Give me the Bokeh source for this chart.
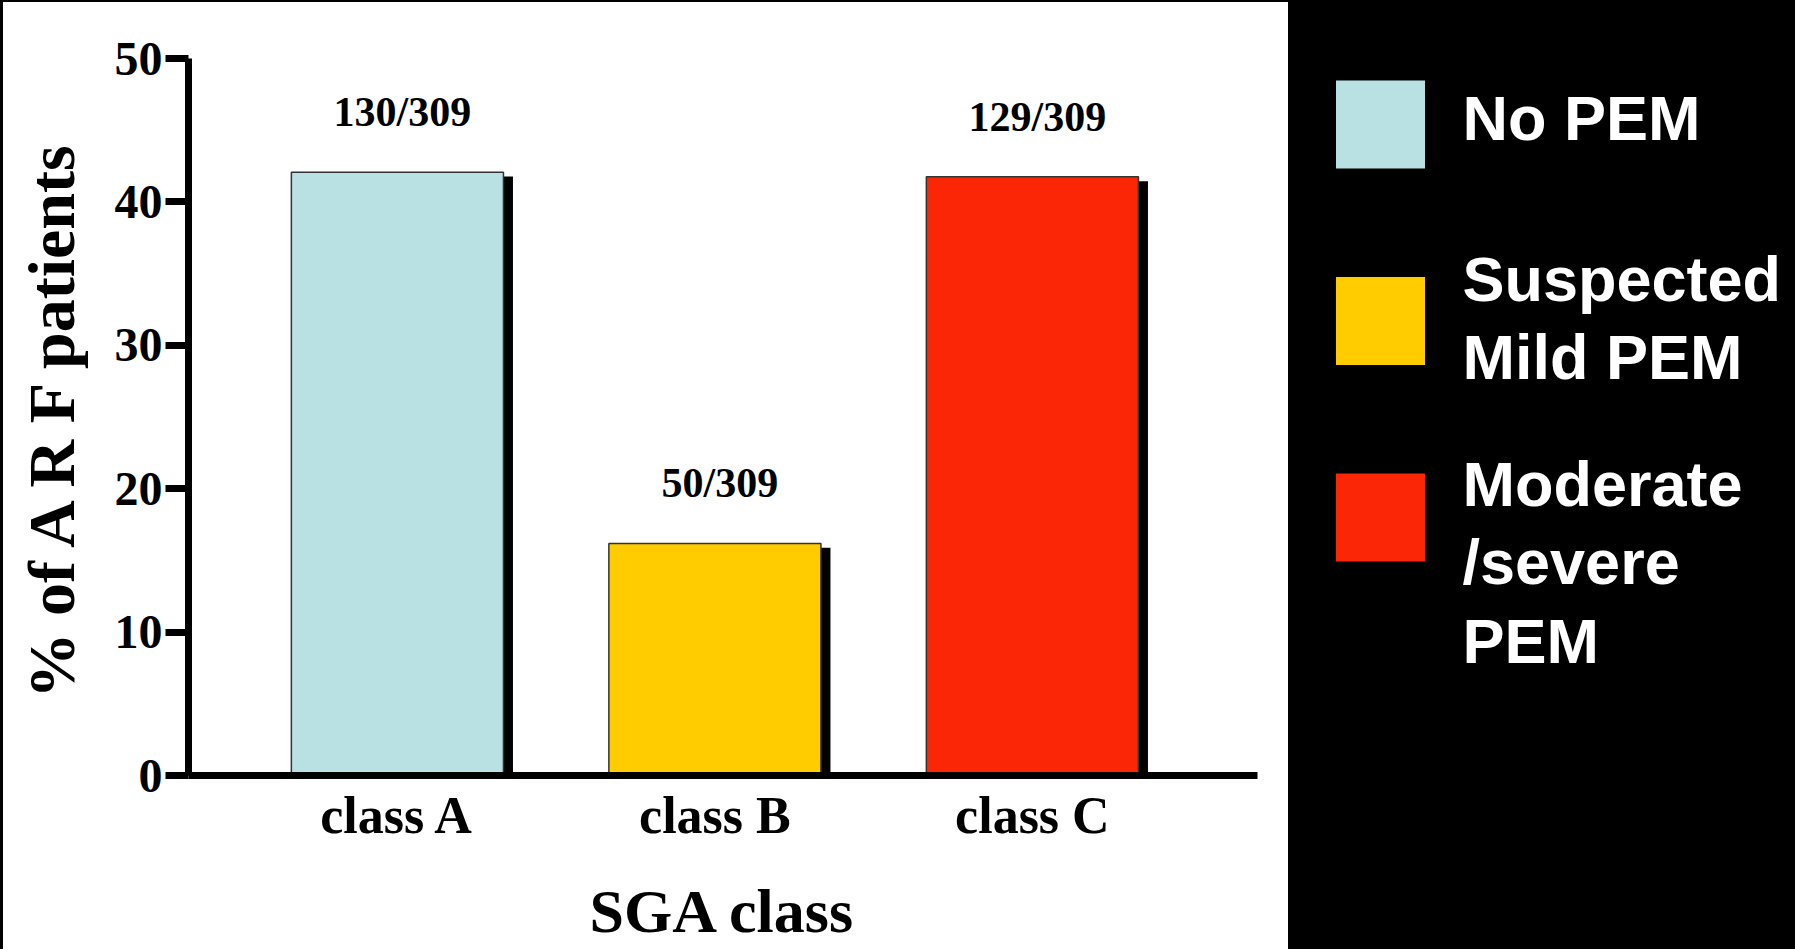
from bokeh.plotting import figure
from bokeh.models import Range1d, FixedTicker, ColumnDataSource, LabelSet
from bokeh.layouts import row
from bokeh.transform import dodge
from bokeh.core.properties import value
from bokeh.embed import file_html
from bokeh.resources import INLINE

# --- data -------------------------------------------------------------
classes = ["class A", "class B", "class C"]
patients = [130, 50, 129]
total_patients = 309
groups = ["No PEM", "Suspected\nMild  PEM", "Moderate\n/severe\nPEM"]
colors = ["#B9E0E2", "#FFCC00", "#FA2605"]
y_ticks = [0, 10, 20, 30, 40, 50]

pct = [n / total_patients * 100 for n in patients]
fractions = [f"{n}/{total_patients}" for n in patients]
xpos = list(range(1, len(classes) + 1))

src = ColumnDataSource(dict(x=xpos, pct=pct, frac=fractions, color=colors))

SERIF = "Liberation Serif"
SANS = "Liberation Sans"

# --- bar chart (white panel) -------------------------------------------
x_start, x_end = 0.342, 3.709
p = figure(width=1285, height=947,
           x_range=Range1d(x_start, x_end), y_range=Range1d(0, 50),
           output_backend="svg", toolbar_location=None,
           min_border_left=185, min_border_top=56,
           min_border_right=31, min_border_bottom=174,
           margin=(2, 0, 0, 3), styles={"background-color": "white"})
p.background_fill_color = "white"
p.border_fill_color = "white"
p.outline_line_color = None
p.grid.visible = False

# drop shadow behind each bar
p.vbar(x=dodge("x", 0.03), top=dodge("pct", -0.3), width=0.668, bottom=0,
       source=src, fill_color="black", line_color=None)
p.vbar(x="x", top="pct", width=0.668, bottom=0, source=src,
       fill_color="color", line_color="#333333", line_width=1.5)

labels = LabelSet(x="x", y="pct", text="frac", source=src,
                  x_offset=5, y_offset=46,
                  text_align="center", text_baseline="alphabetic",
                  text_font=value(SERIF), text_font_style="bold",
                  text_font_size="42px", text_color="black")
p.add_layout(labels)

xa = p.xaxis[0]
xa.ticker = FixedTicker(ticks=xpos)
xa.major_label_overrides = {i: c for i, c in zip(xpos, classes)}
xa.axis_line_width = 7
xa.axis_line_color = "black"
xa.major_tick_line_color = None
xa.minor_tick_line_color = None
xa.major_label_standoff = 5
xa.major_label_text_font = SERIF
xa.major_label_text_font_style = "bold"
xa.major_label_text_font_size = "52px"
xa.major_label_text_color = "black"
xa.axis_label = "SGA class"
xa.axis_label_text_font = SERIF
xa.axis_label_text_font_style = "bold"
xa.axis_label_text_font_size = "62px"
xa.axis_label_text_color = "black"
xa.axis_label_standoff = 30

ya = p.yaxis[0]
ya.ticker = FixedTicker(ticks=y_ticks)
ya.axis_line_width = 7
ya.axis_line_color = "black"
ya.major_tick_line_width = 7
ya.major_tick_line_color = "black"
ya.major_tick_out = 23
ya.major_tick_in = 0
ya.minor_tick_line_color = None
ya.major_label_standoff = 3
ya.major_label_text_font = SERIF
ya.major_label_text_font_style = "bold"
ya.major_label_text_font_size = "48px"
ya.major_label_text_color = "black"
ya.axis_label = "% of A R F patients"
ya.axis_label_text_font = SERIF
ya.axis_label_text_font_style = "bold"
ya.axis_label_text_font_size = "66px"
ya.axis_label_text_color = "black"
ya.axis_label_standoff = 24

# --- legend panel (black strip) ----------------------------------------
idx = list(range(len(groups)))
# per-entry vertical nudge of the multi-line legend text, in pixels
text_nudge = [-6, -3, 45]
leg = ColumnDataSource(dict(i=idx, label=groups, color=colors, dy=text_nudge))

q = figure(width=507, height=949,
           x_range=Range1d(0, 507), y_range=Range1d(3.313, -0.346),
           output_backend="svg", toolbar_location=None,
           x_axis_location=None, y_axis_location=None,
           min_border_left=0, min_border_right=0,
           min_border_top=56, min_border_bottom=174)
q.background_fill_color = "black"
q.border_fill_color = "black"
q.outline_line_color = None
q.grid.visible = False

q.rect(x=92, y="i", width=89, height=88, width_units="screen",
       height_units="screen", source=leg, fill_color="color",
       line_color=None)
q.text(x=174, y="i", text="label", source=leg, y_offset="dy",
       text_color="white", text_font=value(SANS), text_font_style="bold",
       text_font_size="63px", text_baseline="middle", text_align="left",
       text_line_height=1.12)

layout = row(p, q, styles={"background-color": "black"})

open("out.html", "w").write(file_html(layout, INLINE))
